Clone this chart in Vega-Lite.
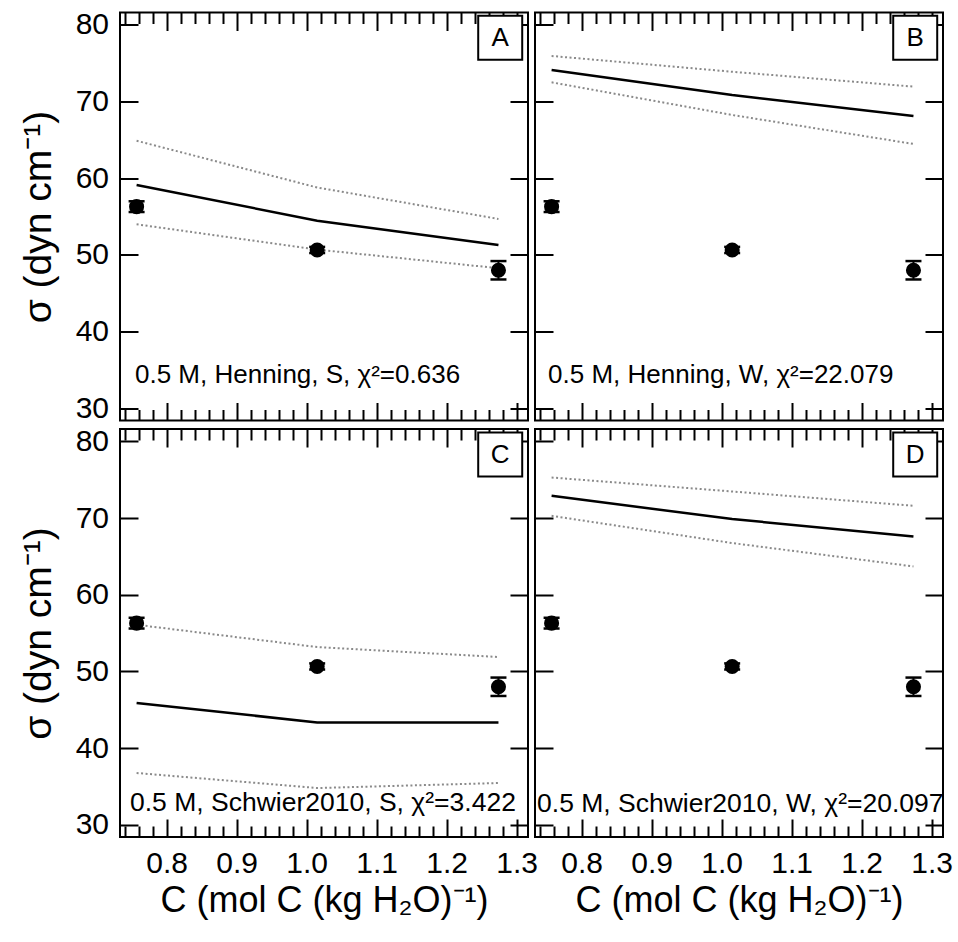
{
  "$schema": "https://vega.github.io/schema/vega-lite/v6.json",
  "background": "white",
  "autosize": {"type": "none"},
  "padding": {"left": 120, "top": 12.5, "right": 838, "bottom": 929.5},
  "config": {
    "font": "Liberation Sans",
    "view": {"stroke": "black", "strokeWidth": 2},
    "axis": {
      "domain": false,
      "grid": false,
      "tickColor": "black",
      "tickWidth": 2,
      "labelColor": "black",
      "labelFont": "Liberation Sans",
      "labelFontSize": 30,
      "labelOverlap": false,
      "labelBound": false,
      "labelFlush": false,
      "titleColor": "black",
      "titleFont": "Liberation Sans",
      "titleFontWeight": "normal"
    }
  },
  "datasets": {
    "pts": [
      {"x": 0.757, "s": 56.3, "lo": 55.6, "hi": 57.0},
      {"x": 1.015, "s": 50.65, "lo": 50.25, "hi": 51.05},
      {"x": 1.274, "s": 48.0, "lo": 46.8, "hi": 49.2}
    ],
    "curves": [
      {"panel": "A", "band": "fit", "x": 0.757, "s": 59.13},
      {"panel": "A", "band": "fit", "x": 1.015, "s": 54.47},
      {"panel": "A", "band": "fit", "x": 1.274, "s": 51.3},
      {"panel": "A", "band": "upper", "x": 0.757, "s": 64.9},
      {"panel": "A", "band": "upper", "x": 1.015, "s": 58.8},
      {"panel": "A", "band": "upper", "x": 1.274, "s": 54.7},
      {"panel": "A", "band": "lower", "x": 0.757, "s": 54.0},
      {"panel": "A", "band": "lower", "x": 1.015, "s": 50.7},
      {"panel": "A", "band": "lower", "x": 1.274, "s": 48.27},
      {"panel": "B", "band": "fit", "x": 0.757, "s": 74.13},
      {"panel": "B", "band": "fit", "x": 1.015, "s": 70.87},
      {"panel": "B", "band": "fit", "x": 1.274, "s": 68.13},
      {"panel": "B", "band": "upper", "x": 0.757, "s": 75.96},
      {"panel": "B", "band": "upper", "x": 1.015, "s": 73.9},
      {"panel": "B", "band": "upper", "x": 1.274, "s": 71.96},
      {"panel": "B", "band": "lower", "x": 0.757, "s": 72.52},
      {"panel": "B", "band": "lower", "x": 1.015, "s": 68.26},
      {"panel": "B", "band": "lower", "x": 1.274, "s": 64.48},
      {"panel": "C", "band": "fit", "x": 0.757, "s": 45.88},
      {"panel": "C", "band": "fit", "x": 1.015, "s": 43.35},
      {"panel": "C", "band": "fit", "x": 1.274, "s": 43.35},
      {"panel": "C", "band": "upper", "x": 0.757, "s": 56.09},
      {"panel": "C", "band": "upper", "x": 1.015, "s": 53.18},
      {"panel": "C", "band": "upper", "x": 1.274, "s": 51.88},
      {"panel": "C", "band": "lower", "x": 0.757, "s": 36.75},
      {"panel": "C", "band": "lower", "x": 1.015, "s": 34.79},
      {"panel": "C", "band": "lower", "x": 1.274, "s": 35.44},
      {"panel": "D", "band": "fit", "x": 0.757, "s": 72.91},
      {"panel": "D", "band": "fit", "x": 1.015, "s": 69.88},
      {"panel": "D", "band": "fit", "x": 1.274, "s": 67.61},
      {"panel": "D", "band": "upper", "x": 0.757, "s": 75.3},
      {"panel": "D", "band": "upper", "x": 1.015, "s": 73.48},
      {"panel": "D", "band": "upper", "x": 1.274, "s": 71.61},
      {"panel": "D", "band": "lower", "x": 0.757, "s": 70.3},
      {"panel": "D", "band": "lower", "x": 1.015, "s": 66.75},
      {"panel": "D", "band": "lower", "x": 1.274, "s": 63.7}
    ],
    "notes": [
      {"panel": "A", "tag": "A", "note": "0.5 M, Henning, S, χ²=0.636"},
      {"panel": "B", "tag": "B", "note": "0.5 M, Henning, W, χ²=22.079"},
      {"panel": "C", "tag": "C", "note": "0.5 M, Schwier2010, S, χ²=3.422"},
      {"panel": "D", "tag": "D", "note": "0.5 M, Schwier2010, W, χ²=20.097"}
    ]
  },
  "columns": 2,
  "bounds": "flush",
  "spacing": {"row": 8.5, "column": 7},
  "concat": [
    {
      "width": 408, "height": 408,
      "resolve": {"axis": {"x": "independent", "y": "independent"}},
      "layer": [
        {
          "layer": [
            {"data": {"name": "curves"}, "transform": [{"filter": "datum.panel == 'A' && datum.band != 'fit'"}],
             "mark": {"type": "line", "color": "#8a8a8a", "strokeWidth": 2, "strokeDash": [2, 2.5]},
             "encoding": {
               "x": {"field": "x", "type": "quantitative", "scale": {"domain": [0.7333, 1.3162], "nice": false, "zero": false},
                     "axis": {"orient": "bottom", "title": null, "labels": false, "values": [0.8, 0.9, 1.0, 1.1, 1.2, 1.3], "tickSize": -18}},
               "y": {"field": "s", "type": "quantitative", "scale": {"domain": [28.4, 81.63], "nice": false, "zero": false},
                     "axis": {"orient": "left", "title": "σ (dyn cm⁻¹)", "titleFontSize": 39, "values": [30,40,50,60,70,80], "tickSize": -18, "labelPadding": 29.5, "titlePadding": 17}},
               "detail": {"field": "band"}}},
            {"data": {"name": "curves"}, "transform": [{"filter": "datum.panel == 'A' && datum.band == 'fit'"}],
             "mark": {"type": "line", "color": "black", "strokeWidth": 2.5},
             "encoding": {
               "x": {"field": "x", "type": "quantitative", "scale": {"domain": [0.7333, 1.3162], "nice": false, "zero": false}},
               "y": {"field": "s", "type": "quantitative", "scale": {"domain": [28.4, 81.63], "nice": false, "zero": false}}}},
            {"data": {"name": "pts"}, "mark": {"type": "rule", "color": "black", "strokeWidth": 2, "opacity": 1},
             "encoding": {
               "x": {"field": "x", "type": "quantitative", "scale": {"domain": [0.7333, 1.3162], "nice": false, "zero": false}},
               "y": {"field": "lo", "type": "quantitative", "scale": {"domain": [28.4, 81.63], "nice": false, "zero": false}},
               "y2": {"field": "hi"}}},
            {"data": {"name": "pts"}, "mark": {"type": "tick", "orient": "horizontal", "color": "black", "opacity": 1, "size": 16, "thickness": 2.5},
             "encoding": {
               "x": {"field": "x", "type": "quantitative", "scale": {"domain": [0.7333, 1.3162], "nice": false, "zero": false}},
               "y": {"field": "lo", "type": "quantitative", "scale": {"domain": [28.4, 81.63], "nice": false, "zero": false}}}},
            {"data": {"name": "pts"}, "mark": {"type": "tick", "orient": "horizontal", "color": "black", "opacity": 1, "size": 16, "thickness": 2.5},
             "encoding": {
               "x": {"field": "x", "type": "quantitative", "scale": {"domain": [0.7333, 1.3162], "nice": false, "zero": false}},
               "y": {"field": "hi", "type": "quantitative", "scale": {"domain": [28.4, 81.63], "nice": false, "zero": false}}}},
            {"data": {"name": "pts"}, "mark": {"type": "point", "shape": "circle", "filled": true, "color": "black", "opacity": 1, "size": 227},
             "encoding": {
               "x": {"field": "x", "type": "quantitative", "scale": {"domain": [0.7333, 1.3162], "nice": false, "zero": false}},
               "y": {"field": "s", "type": "quantitative", "scale": {"domain": [28.4, 81.63], "nice": false, "zero": false}}}},
            {"data": {"name": "notes"}, "transform": [{"filter": "datum.panel == 'A'"}],
             "mark": {"type": "point", "shape": "square", "filled": true, "fill": "white", "stroke": "black", "strokeWidth": 2, "opacity": 1, "size": 1936},
             "encoding": {"x": {"datum": 1.2765, "type": "quantitative"}, "y": {"datum": 78.35, "type": "quantitative"}}},
            {"data": {"name": "notes"}, "transform": [{"filter": "datum.panel == 'A'"}],
             "mark": {"type": "text", "fontSize": 26, "align": "center", "baseline": "middle", "color": "black"},
             "encoding": {"x": {"datum": 1.2765, "type": "quantitative"}, "y": {"datum": 78.35, "type": "quantitative"}, "text": {"field": "tag"}}},
            {"data": {"name": "notes"}, "transform": [{"filter": "datum.panel == 'A'"}],
             "mark": {"type": "text", "fontSize": 26, "align": "left", "baseline": "alphabetic", "color": "black"},
             "encoding": {"x": {"datum": 0.7547, "type": "quantitative"}, "y": {"datum": 33.26, "type": "quantitative"}, "text": {"field": "note"}}}
          ]
        },
        {"data": {"name": "pts"}, "mark": {"type": "point", "opacity": 0},
         "encoding": {
           "x": {"field": "x", "type": "quantitative", "scale": {"domain": [0.7333, 1.3162], "nice": false, "zero": false},
                 "axis": {"orient": "top", "title": null, "labels": false, "values": [0.8, 0.9, 1.0, 1.1, 1.2, 1.3], "tickSize": -18}},
           "y": {"field": "s", "type": "quantitative", "scale": {"domain": [28.4, 81.63], "nice": false, "zero": false},
                 "axis": {"orient": "right", "title": null, "labels": false, "values": [30,40,50,60,70,80], "tickSize": -18}}}},
        {"data": {"name": "pts"}, "mark": {"type": "point", "opacity": 0},
         "encoding": {
           "x": {"field": "x", "type": "quantitative", "scale": {"domain": [0.7333, 1.3162], "nice": false, "zero": false},
                 "axis": {"orient": "bottom", "title": null, "labels": false, "tickSize": -11,
                          "values": [0.74,0.76,0.78,0.82,0.84,0.86,0.88,0.92,0.94,0.96,0.98,1.02,1.04,1.06,1.08,1.12,1.14,1.16,1.18,1.22,1.24,1.26,1.28]}},
           "y": {"field": "s", "type": "quantitative", "scale": {"domain": [28.4, 81.63], "nice": false, "zero": false}, "axis": null}}},
        {"data": {"name": "pts"}, "mark": {"type": "point", "opacity": 0},
         "encoding": {
           "x": {"field": "x", "type": "quantitative", "scale": {"domain": [0.7333, 1.3162], "nice": false, "zero": false},
                 "axis": {"orient": "top", "title": null, "labels": false, "tickSize": -11,
                          "values": [0.74,0.76,0.78,0.82,0.84,0.86,0.88,0.92,0.94,0.96,0.98,1.02,1.04,1.06,1.08,1.12,1.14,1.16,1.18,1.22,1.24,1.26,1.28]}},
           "y": {"field": "s", "type": "quantitative", "scale": {"domain": [28.4, 81.63], "nice": false, "zero": false}, "axis": null}}}
      ]
    },
    {
      "width": 408, "height": 408,
      "resolve": {"axis": {"x": "independent", "y": "independent"}},
      "layer": [
        {
          "layer": [
            {"data": {"name": "curves"}, "transform": [{"filter": "datum.panel == 'B' && datum.band != 'fit'"}],
             "mark": {"type": "line", "color": "#8a8a8a", "strokeWidth": 2, "strokeDash": [2, 2.5]},
             "encoding": {
               "x": {"field": "x", "type": "quantitative", "scale": {"domain": [0.7333, 1.3162], "nice": false, "zero": false},
                     "axis": {"orient": "bottom", "title": null, "labels": false, "values": [0.8, 0.9, 1.0, 1.1, 1.2, 1.3], "tickSize": -18}},
               "y": {"field": "s", "type": "quantitative", "scale": {"domain": [28.4, 81.63], "nice": false, "zero": false},
                     "axis": {"orient": "left", "title": null, "labels": false, "values": [30,40,50,60,70,80], "tickSize": -18}},
               "detail": {"field": "band"}}},
            {"data": {"name": "curves"}, "transform": [{"filter": "datum.panel == 'B' && datum.band == 'fit'"}],
             "mark": {"type": "line", "color": "black", "strokeWidth": 2.5},
             "encoding": {
               "x": {"field": "x", "type": "quantitative", "scale": {"domain": [0.7333, 1.3162], "nice": false, "zero": false}},
               "y": {"field": "s", "type": "quantitative", "scale": {"domain": [28.4, 81.63], "nice": false, "zero": false}}}},
            {"data": {"name": "pts"}, "mark": {"type": "rule", "color": "black", "strokeWidth": 2, "opacity": 1},
             "encoding": {
               "x": {"field": "x", "type": "quantitative", "scale": {"domain": [0.7333, 1.3162], "nice": false, "zero": false}},
               "y": {"field": "lo", "type": "quantitative", "scale": {"domain": [28.4, 81.63], "nice": false, "zero": false}},
               "y2": {"field": "hi"}}},
            {"data": {"name": "pts"}, "mark": {"type": "tick", "orient": "horizontal", "color": "black", "opacity": 1, "size": 16, "thickness": 2.5},
             "encoding": {
               "x": {"field": "x", "type": "quantitative", "scale": {"domain": [0.7333, 1.3162], "nice": false, "zero": false}},
               "y": {"field": "lo", "type": "quantitative", "scale": {"domain": [28.4, 81.63], "nice": false, "zero": false}}}},
            {"data": {"name": "pts"}, "mark": {"type": "tick", "orient": "horizontal", "color": "black", "opacity": 1, "size": 16, "thickness": 2.5},
             "encoding": {
               "x": {"field": "x", "type": "quantitative", "scale": {"domain": [0.7333, 1.3162], "nice": false, "zero": false}},
               "y": {"field": "hi", "type": "quantitative", "scale": {"domain": [28.4, 81.63], "nice": false, "zero": false}}}},
            {"data": {"name": "pts"}, "mark": {"type": "point", "shape": "circle", "filled": true, "color": "black", "opacity": 1, "size": 227},
             "encoding": {
               "x": {"field": "x", "type": "quantitative", "scale": {"domain": [0.7333, 1.3162], "nice": false, "zero": false}},
               "y": {"field": "s", "type": "quantitative", "scale": {"domain": [28.4, 81.63], "nice": false, "zero": false}}}},
            {"data": {"name": "notes"}, "transform": [{"filter": "datum.panel == 'B'"}],
             "mark": {"type": "point", "shape": "square", "filled": true, "fill": "white", "stroke": "black", "strokeWidth": 2, "opacity": 1, "size": 1936},
             "encoding": {"x": {"datum": 1.2765, "type": "quantitative"}, "y": {"datum": 78.35, "type": "quantitative"}}},
            {"data": {"name": "notes"}, "transform": [{"filter": "datum.panel == 'B'"}],
             "mark": {"type": "text", "fontSize": 26, "align": "center", "baseline": "middle", "color": "black"},
             "encoding": {"x": {"datum": 1.2765, "type": "quantitative"}, "y": {"datum": 78.35, "type": "quantitative"}, "text": {"field": "tag"}}},
            {"data": {"name": "notes"}, "transform": [{"filter": "datum.panel == 'B'"}],
             "mark": {"type": "text", "fontSize": 26, "align": "left", "baseline": "alphabetic", "color": "black"},
             "encoding": {"x": {"datum": 0.752, "type": "quantitative"}, "y": {"datum": 33.26, "type": "quantitative"}, "text": {"field": "note"}}}
          ]
        },
        {"data": {"name": "pts"}, "mark": {"type": "point", "opacity": 0},
         "encoding": {
           "x": {"field": "x", "type": "quantitative", "scale": {"domain": [0.7333, 1.3162], "nice": false, "zero": false},
                 "axis": {"orient": "top", "title": null, "labels": false, "values": [0.8, 0.9, 1.0, 1.1, 1.2, 1.3], "tickSize": -18}},
           "y": {"field": "s", "type": "quantitative", "scale": {"domain": [28.4, 81.63], "nice": false, "zero": false},
                 "axis": {"orient": "right", "title": null, "labels": false, "values": [30,40,50,60,70,80], "tickSize": -18}}}},
        {"data": {"name": "pts"}, "mark": {"type": "point", "opacity": 0},
         "encoding": {
           "x": {"field": "x", "type": "quantitative", "scale": {"domain": [0.7333, 1.3162], "nice": false, "zero": false},
                 "axis": {"orient": "bottom", "title": null, "labels": false, "tickSize": -11,
                          "values": [0.74,0.76,0.78,0.82,0.84,0.86,0.88,0.92,0.94,0.96,0.98,1.02,1.04,1.06,1.08,1.12,1.14,1.16,1.18,1.22,1.24,1.26,1.28]}},
           "y": {"field": "s", "type": "quantitative", "scale": {"domain": [28.4, 81.63], "nice": false, "zero": false}, "axis": null}}},
        {"data": {"name": "pts"}, "mark": {"type": "point", "opacity": 0},
         "encoding": {
           "x": {"field": "x", "type": "quantitative", "scale": {"domain": [0.7333, 1.3162], "nice": false, "zero": false},
                 "axis": {"orient": "top", "title": null, "labels": false, "tickSize": -11,
                          "values": [0.74,0.76,0.78,0.82,0.84,0.86,0.88,0.92,0.94,0.96,0.98,1.02,1.04,1.06,1.08,1.12,1.14,1.16,1.18,1.22,1.24,1.26,1.28]}},
           "y": {"field": "s", "type": "quantitative", "scale": {"domain": [28.4, 81.63], "nice": false, "zero": false}, "axis": null}}}
      ]
    },
    {
      "width": 408, "height": 408,
      "resolve": {"axis": {"x": "independent", "y": "independent"}},
      "layer": [
        {
          "layer": [
            {"data": {"name": "curves"}, "transform": [{"filter": "datum.panel == 'C' && datum.band != 'fit'"}],
             "mark": {"type": "line", "color": "#8a8a8a", "strokeWidth": 2, "strokeDash": [2, 2.5]},
             "encoding": {
               "x": {"field": "x", "type": "quantitative", "scale": {"domain": [0.7333, 1.3162], "nice": false, "zero": false},
                     "axis": {"orient": "bottom", "title": "C (mol C (kg H₂O)⁻¹)", "titleFontSize": 36, "labels": true, "format": ".1f",
                              "labelPadding": 29, "titlePadding": 5, "values": [0.8, 0.9, 1.0, 1.1, 1.2, 1.3], "tickSize": -18}},
               "y": {"field": "s", "type": "quantitative", "scale": {"domain": [28.4, 81.63], "nice": false, "zero": false},
                     "axis": {"orient": "left", "title": "σ (dyn cm⁻¹)", "titleFontSize": 39, "values": [30,40,50,60,70,80], "tickSize": -18, "labelPadding": 29.5, "titlePadding": 17}},
               "detail": {"field": "band"}}},
            {"data": {"name": "curves"}, "transform": [{"filter": "datum.panel == 'C' && datum.band == 'fit'"}],
             "mark": {"type": "line", "color": "black", "strokeWidth": 2.5},
             "encoding": {
               "x": {"field": "x", "type": "quantitative", "scale": {"domain": [0.7333, 1.3162], "nice": false, "zero": false}},
               "y": {"field": "s", "type": "quantitative", "scale": {"domain": [28.4, 81.63], "nice": false, "zero": false}}}},
            {"data": {"name": "pts"}, "mark": {"type": "rule", "color": "black", "strokeWidth": 2, "opacity": 1},
             "encoding": {
               "x": {"field": "x", "type": "quantitative", "scale": {"domain": [0.7333, 1.3162], "nice": false, "zero": false}},
               "y": {"field": "lo", "type": "quantitative", "scale": {"domain": [28.4, 81.63], "nice": false, "zero": false}},
               "y2": {"field": "hi"}}},
            {"data": {"name": "pts"}, "mark": {"type": "tick", "orient": "horizontal", "color": "black", "opacity": 1, "size": 16, "thickness": 2.5},
             "encoding": {
               "x": {"field": "x", "type": "quantitative", "scale": {"domain": [0.7333, 1.3162], "nice": false, "zero": false}},
               "y": {"field": "lo", "type": "quantitative", "scale": {"domain": [28.4, 81.63], "nice": false, "zero": false}}}},
            {"data": {"name": "pts"}, "mark": {"type": "tick", "orient": "horizontal", "color": "black", "opacity": 1, "size": 16, "thickness": 2.5},
             "encoding": {
               "x": {"field": "x", "type": "quantitative", "scale": {"domain": [0.7333, 1.3162], "nice": false, "zero": false}},
               "y": {"field": "hi", "type": "quantitative", "scale": {"domain": [28.4, 81.63], "nice": false, "zero": false}}}},
            {"data": {"name": "pts"}, "mark": {"type": "point", "shape": "circle", "filled": true, "color": "black", "opacity": 1, "size": 227},
             "encoding": {
               "x": {"field": "x", "type": "quantitative", "scale": {"domain": [0.7333, 1.3162], "nice": false, "zero": false}},
               "y": {"field": "s", "type": "quantitative", "scale": {"domain": [28.4, 81.63], "nice": false, "zero": false}}}},
            {"data": {"name": "notes"}, "transform": [{"filter": "datum.panel == 'C'"}],
             "mark": {"type": "point", "shape": "square", "filled": true, "fill": "white", "stroke": "black", "strokeWidth": 2, "opacity": 1, "size": 1936},
             "encoding": {"x": {"datum": 1.2765, "type": "quantitative"}, "y": {"datum": 78.3, "type": "quantitative"}}},
            {"data": {"name": "notes"}, "transform": [{"filter": "datum.panel == 'C'"}],
             "mark": {"type": "text", "fontSize": 26, "align": "center", "baseline": "middle", "color": "black"},
             "encoding": {"x": {"datum": 1.2765, "type": "quantitative"}, "y": {"datum": 78.3, "type": "quantitative"}, "text": {"field": "tag"}}},
            {"data": {"name": "notes"}, "transform": [{"filter": "datum.panel == 'C'"}],
             "mark": {"type": "text", "fontSize": 26.5, "align": "left", "baseline": "alphabetic", "color": "black"},
             "encoding": {"x": {"datum": 0.7476, "type": "quantitative"}, "y": {"datum": 31.73, "type": "quantitative"}, "text": {"field": "note"}}}
          ]
        },
        {"data": {"name": "pts"}, "mark": {"type": "point", "opacity": 0},
         "encoding": {
           "x": {"field": "x", "type": "quantitative", "scale": {"domain": [0.7333, 1.3162], "nice": false, "zero": false},
                 "axis": {"orient": "top", "title": null, "labels": false, "values": [0.8, 0.9, 1.0, 1.1, 1.2, 1.3], "tickSize": -18}},
           "y": {"field": "s", "type": "quantitative", "scale": {"domain": [28.4, 81.63], "nice": false, "zero": false},
                 "axis": {"orient": "right", "title": null, "labels": false, "values": [30,40,50,60,70,80], "tickSize": -18}}}},
        {"data": {"name": "pts"}, "mark": {"type": "point", "opacity": 0},
         "encoding": {
           "x": {"field": "x", "type": "quantitative", "scale": {"domain": [0.7333, 1.3162], "nice": false, "zero": false},
                 "axis": {"orient": "bottom", "title": null, "labels": false, "tickSize": -11,
                          "values": [0.74,0.76,0.78,0.82,0.84,0.86,0.88,0.92,0.94,0.96,0.98,1.02,1.04,1.06,1.08,1.12,1.14,1.16,1.18,1.22,1.24,1.26,1.28]}},
           "y": {"field": "s", "type": "quantitative", "scale": {"domain": [28.4, 81.63], "nice": false, "zero": false}, "axis": null}}},
        {"data": {"name": "pts"}, "mark": {"type": "point", "opacity": 0},
         "encoding": {
           "x": {"field": "x", "type": "quantitative", "scale": {"domain": [0.7333, 1.3162], "nice": false, "zero": false},
                 "axis": {"orient": "top", "title": null, "labels": false, "tickSize": -11,
                          "values": [0.74,0.76,0.78,0.82,0.84,0.86,0.88,0.92,0.94,0.96,0.98,1.02,1.04,1.06,1.08,1.12,1.14,1.16,1.18,1.22,1.24,1.26,1.28]}},
           "y": {"field": "s", "type": "quantitative", "scale": {"domain": [28.4, 81.63], "nice": false, "zero": false}, "axis": null}}}
      ]
    },
    {
      "width": 408, "height": 408,
      "resolve": {"axis": {"x": "independent", "y": "independent"}},
      "layer": [
        {
          "layer": [
            {"data": {"name": "curves"}, "transform": [{"filter": "datum.panel == 'D' && datum.band != 'fit'"}],
             "mark": {"type": "line", "color": "#8a8a8a", "strokeWidth": 2, "strokeDash": [2, 2.5]},
             "encoding": {
               "x": {"field": "x", "type": "quantitative", "scale": {"domain": [0.7333, 1.3162], "nice": false, "zero": false},
                     "axis": {"orient": "bottom", "title": "C (mol C (kg H₂O)⁻¹)", "titleFontSize": 36, "labels": true, "format": ".1f",
                              "labelPadding": 29, "titlePadding": 5, "values": [0.8, 0.9, 1.0, 1.1, 1.2, 1.3], "tickSize": -18}},
               "y": {"field": "s", "type": "quantitative", "scale": {"domain": [28.4, 81.63], "nice": false, "zero": false},
                     "axis": {"orient": "left", "title": null, "labels": false, "values": [30,40,50,60,70,80], "tickSize": -18}},
               "detail": {"field": "band"}}},
            {"data": {"name": "curves"}, "transform": [{"filter": "datum.panel == 'D' && datum.band == 'fit'"}],
             "mark": {"type": "line", "color": "black", "strokeWidth": 2.5},
             "encoding": {
               "x": {"field": "x", "type": "quantitative", "scale": {"domain": [0.7333, 1.3162], "nice": false, "zero": false}},
               "y": {"field": "s", "type": "quantitative", "scale": {"domain": [28.4, 81.63], "nice": false, "zero": false}}}},
            {"data": {"name": "pts"}, "mark": {"type": "rule", "color": "black", "strokeWidth": 2, "opacity": 1},
             "encoding": {
               "x": {"field": "x", "type": "quantitative", "scale": {"domain": [0.7333, 1.3162], "nice": false, "zero": false}},
               "y": {"field": "lo", "type": "quantitative", "scale": {"domain": [28.4, 81.63], "nice": false, "zero": false}},
               "y2": {"field": "hi"}}},
            {"data": {"name": "pts"}, "mark": {"type": "tick", "orient": "horizontal", "color": "black", "opacity": 1, "size": 16, "thickness": 2.5},
             "encoding": {
               "x": {"field": "x", "type": "quantitative", "scale": {"domain": [0.7333, 1.3162], "nice": false, "zero": false}},
               "y": {"field": "lo", "type": "quantitative", "scale": {"domain": [28.4, 81.63], "nice": false, "zero": false}}}},
            {"data": {"name": "pts"}, "mark": {"type": "tick", "orient": "horizontal", "color": "black", "opacity": 1, "size": 16, "thickness": 2.5},
             "encoding": {
               "x": {"field": "x", "type": "quantitative", "scale": {"domain": [0.7333, 1.3162], "nice": false, "zero": false}},
               "y": {"field": "hi", "type": "quantitative", "scale": {"domain": [28.4, 81.63], "nice": false, "zero": false}}}},
            {"data": {"name": "pts"}, "mark": {"type": "point", "shape": "circle", "filled": true, "color": "black", "opacity": 1, "size": 227},
             "encoding": {
               "x": {"field": "x", "type": "quantitative", "scale": {"domain": [0.7333, 1.3162], "nice": false, "zero": false}},
               "y": {"field": "s", "type": "quantitative", "scale": {"domain": [28.4, 81.63], "nice": false, "zero": false}}}},
            {"data": {"name": "notes"}, "transform": [{"filter": "datum.panel == 'D'"}],
             "mark": {"type": "point", "shape": "square", "filled": true, "fill": "white", "stroke": "black", "strokeWidth": 2, "opacity": 1, "size": 1936},
             "encoding": {"x": {"datum": 1.2765, "type": "quantitative"}, "y": {"datum": 78.3, "type": "quantitative"}}},
            {"data": {"name": "notes"}, "transform": [{"filter": "datum.panel == 'D'"}],
             "mark": {"type": "text", "fontSize": 26, "align": "center", "baseline": "middle", "color": "black"},
             "encoding": {"x": {"datum": 1.2765, "type": "quantitative"}, "y": {"datum": 78.3, "type": "quantitative"}, "text": {"field": "tag"}}},
            {"data": {"name": "notes"}, "transform": [{"filter": "datum.panel == 'D'"}],
             "mark": {"type": "text", "fontSize": 26.5, "align": "left", "baseline": "alphabetic", "color": "black"},
             "encoding": {"x": {"datum": 0.7362, "type": "quantitative"}, "y": {"datum": 31.7, "type": "quantitative"}, "text": {"field": "note"}}}
          ]
        },
        {"data": {"name": "pts"}, "mark": {"type": "point", "opacity": 0},
         "encoding": {
           "x": {"field": "x", "type": "quantitative", "scale": {"domain": [0.7333, 1.3162], "nice": false, "zero": false},
                 "axis": {"orient": "top", "title": null, "labels": false, "values": [0.8, 0.9, 1.0, 1.1, 1.2, 1.3], "tickSize": -18}},
           "y": {"field": "s", "type": "quantitative", "scale": {"domain": [28.4, 81.63], "nice": false, "zero": false},
                 "axis": {"orient": "right", "title": null, "labels": false, "values": [30,40,50,60,70,80], "tickSize": -18}}}},
        {"data": {"name": "pts"}, "mark": {"type": "point", "opacity": 0},
         "encoding": {
           "x": {"field": "x", "type": "quantitative", "scale": {"domain": [0.7333, 1.3162], "nice": false, "zero": false},
                 "axis": {"orient": "bottom", "title": null, "labels": false, "tickSize": -11,
                          "values": [0.74,0.76,0.78,0.82,0.84,0.86,0.88,0.92,0.94,0.96,0.98,1.02,1.04,1.06,1.08,1.12,1.14,1.16,1.18,1.22,1.24,1.26,1.28]}},
           "y": {"field": "s", "type": "quantitative", "scale": {"domain": [28.4, 81.63], "nice": false, "zero": false}, "axis": null}}},
        {"data": {"name": "pts"}, "mark": {"type": "point", "opacity": 0},
         "encoding": {
           "x": {"field": "x", "type": "quantitative", "scale": {"domain": [0.7333, 1.3162], "nice": false, "zero": false},
                 "axis": {"orient": "top", "title": null, "labels": false, "tickSize": -11,
                          "values": [0.74,0.76,0.78,0.82,0.84,0.86,0.88,0.92,0.94,0.96,0.98,1.02,1.04,1.06,1.08,1.12,1.14,1.16,1.18,1.22,1.24,1.26,1.28]}},
           "y": {"field": "s", "type": "quantitative", "scale": {"domain": [28.4, 81.63], "nice": false, "zero": false}, "axis": null}}}
      ]
    }
  ]
}
